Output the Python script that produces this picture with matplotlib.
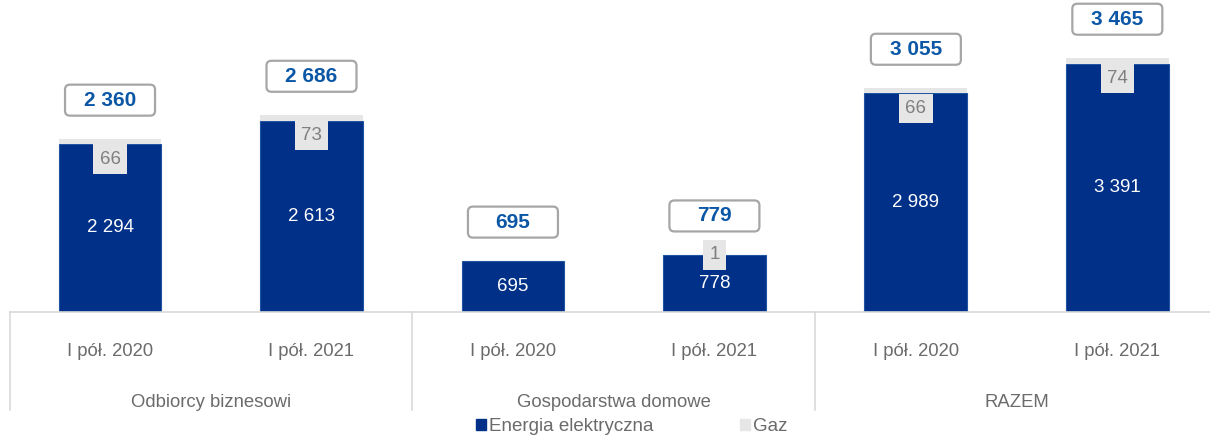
#!/usr/bin/env python3
"""Wolumen sprzedaży energii elektrycznej i gazu - wykres słupkowy skumulowany."""

import matplotlib

matplotlib.use("Agg")
import matplotlib.pyplot as plt
from matplotlib.patches import FancyBboxPatch, Patch
from matplotlib.transforms import ScaledTranslation, blended_transform_factory

plt.rcParams["font.family"] = ["Liberation Sans", "DejaVu Sans"]

groups = ["Odbiorcy biznesowi", "Gospodarstwa domowe", "RAZEM"]
periods = ["I pół. 2020", "I pół. 2021", "I pół. 2020", "I pół. 2021", "I pół. 2020", "I pół. 2021"]
energia = [2294, 2613, 695, 778, 2989, 3391]
gaz = [66, 73, 0, 1, 66, 74]
totals = [2360, 2686, 695, 779, 3055, 3465]

BLUE = "#003087"
BLUE_EDGE = "#1f55a3"
GREY = "#e6e6e6"
TOTAL_BLUE = "#0b57a6"
TEXT_GREY = "#6b6b6b"
LINE_GREY = "#d9d9d9"


def fmt(value: int) -> str:
    return f"{value:,}".replace(",", " ")


fig = plt.figure(figsize=(12.1, 4.37), dpi=100)
ax = fig.add_axes([10 / 1210, 125 / 437, 1200 / 1210, 312 / 437])

xs = list(range(len(periods)))
ax.bar(xs, energia, width=0.51, color=BLUE, edgecolor=BLUE_EDGE, linewidth=0.8)
ax.bar(xs, gaz, width=0.51, bottom=energia, color=GREY, linewidth=0)

ax.set_xlim(-0.4965, 5.46)
ax.set_ylim(0, 4260)
ax.set_yticks([])
ax.set_xticks([])
for side in ("top", "right", "left"):
    ax.spines[side].set_visible(False)
ax.spines["bottom"].set_color(LINE_GREY)
ax.spines["bottom"].set_linewidth(1.2)

# etykiety wartości
for x, e, g, t in zip(xs, energia, gaz, totals):
    ax.text(x, e / 2, fmt(e), ha="center", va="center", color="white", fontsize=13.5)
    if g > 0:
        dy = -14.5 if g >= 5 else 0
        ax.annotate(
            fmt(g), (x, e + g), xytext=(0, dy), textcoords="offset points",
            ha="center", va="center", color="#7f7f7f", fontsize=13.5,
            bbox=dict(boxstyle="square,pad=0.34", fc=GREY, ec="none"),
        )
    box_trans = fig.dpi_scale_trans + ScaledTranslation(x, t, ax.transData)
    box = FancyBboxPatch(
        (-0.45, 0.235), 0.9, 0.31,
        boxstyle="round,pad=0,rounding_size=0.05",
        transform=box_trans, fc="white", ec="#a6a6a6", lw=1.6, clip_on=False,
    )
    ax.add_artist(box)
    ax.text(0, 0.39, fmt(t), transform=box_trans, ha="center", va="center",
            color=TOTAL_BLUE, fontsize=15, fontweight="bold")

# opisy osi kategorii
btrans = blended_transform_factory(ax.transData, ax.transAxes)
for x, label in zip(xs, periods):
    ax.text(x, -0.128, label, transform=btrans, ha="center", va="center",
            color=TEXT_GREY, fontsize=13.3)
for i, name in enumerate(groups):
    ax.text(2 * i + 0.5, -0.29, name, transform=btrans, ha="center", va="center",
            color=TEXT_GREY, fontsize=13.3)
for sep in (-0.4965, 1.5, 3.5):
    ax.plot([sep, sep], [0, -0.314], transform=btrans, color=LINE_GREY,
            lw=1.2, clip_on=False)

handles = [Patch(color=BLUE, label="Energia elektryczna"), Patch(color=GREY, label="Gaz")]
fig.legend(
    handles=handles, loc="center", bbox_to_anchor=(0.522, 0.023), ncol=2,
    frameon=False, fontsize=13.5, handlelength=0.55, handleheight=0.55,
    handletextpad=0.15, columnspacing=4.6, labelcolor=TEXT_GREY,
)

fig.savefig("out.png", dpi=100)
